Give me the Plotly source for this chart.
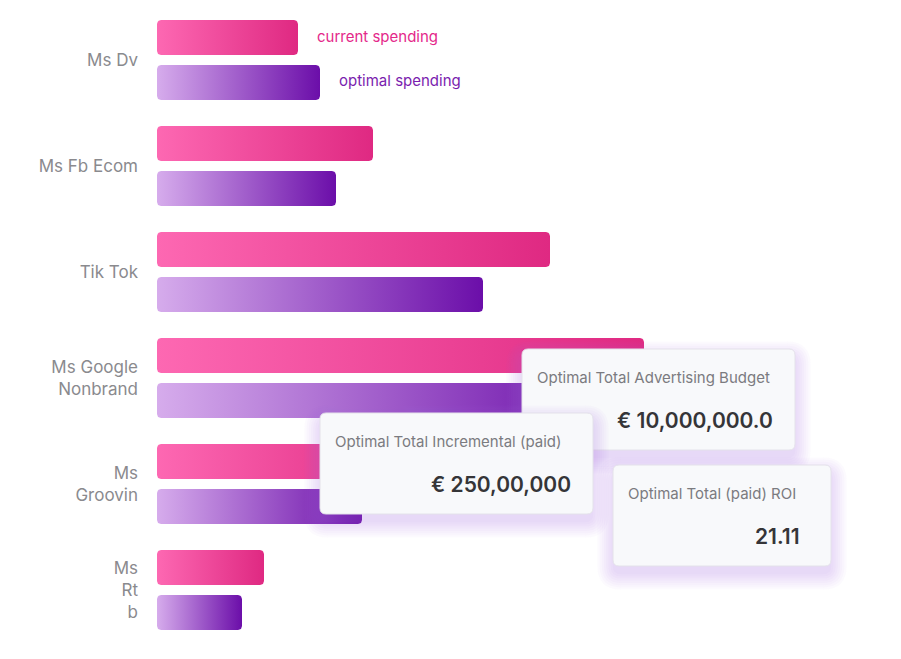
import numpy as np
import plotly.graph_objects as go

# --- data ---
channels = ["Ms Dv", "Ms Fb Ecom", "Tik Tok", "Ms Google<br>Nonbrand", "Ms<br>Groovin", "Ms<br>Rt<br>b"]
current_spending = [141, 216, 393, 487, 265, 107]
optimal_spending = [163, 179, 326, 450, 205, 85]

kpi_titles = ["Optimal Total Advertising Budget", "Optimal Total Incremental (paid)", "Optimal Total (paid) ROI"]
kpi_values = ["€ 10,000,000.0", "€ 250,00,000", "21.11"]

# --- style ---
W, H = 901, 659
PAGE_PAD = 8  # browser body margin
ML, MR = 157 - PAGE_PAD, 44
FONT = "Inter"
PINK_SCALE = [[0, "#FD68B2"], [1, "#DF2982"]]
PURPLE_SCALE = [[0, "#D6ACEC"], [1, "#6B0EA9"]]
OFFSET = 0.212
HALF_H = 0.165
PX_PER_Y = 106.0
Y_TOP = -0.566 + PAGE_PAD / PX_PER_Y
Y_RANGE = [Y_TOP + H / PX_PER_Y, Y_TOP]


def bar_outline(value, yc, r=4):
    # rounded rectangle from 0 to value, centred on yc
    ry = r / PX_PER_Y
    t = np.linspace(0, np.pi / 2, 6)
    y0, y1 = yc - HALF_H, yc + HALF_H
    xs, ys = [], []
    for cx, cy, a0 in [(r, y0 + ry, np.pi), (value - r, y0 + ry, 1.5 * np.pi),
                       (value - r, y1 - ry, 0), (r, y1 - ry, 0.5 * np.pi)]:
        xs += list(cx + r * np.cos(a0 + t))
        ys += list(cy + ry * np.sin(a0 + t))
    xs.append(xs[0])
    ys.append(ys[0])
    return xs, ys


fig = go.Figure()

for i, ch in enumerate(channels):
    for val, off, scale, name in [(current_spending[i], -OFFSET, PINK_SCALE, "current spending"),
                                  (optimal_spending[i], OFFSET, PURPLE_SCALE, "optimal spending")]:
        xs, ys = bar_outline(val, i + off)
        fig.add_trace(go.Scatter(
            x=xs, y=ys, mode="lines", fill="toself",
            line=dict(width=0),
            fillgradient=dict(type="horizontal", colorscale=scale),
            name=name, showlegend=False,
            hoverinfo="text", text=f"{ch.replace('<br>', ' ')}: {val}",
        ))

# legend labels next to first pair of bars
fig.add_annotation(x=current_spending[0], y=0 - OFFSET, xref="x", yref="y",
                   text="current spending", showarrow=False, xanchor="left", xshift=17,
                   yshift=1, font=dict(family=FONT, size=15, color="#E4288A"))
fig.add_annotation(x=optimal_spending[0], y=0 + OFFSET, xref="x", yref="y",
                   text="optimal spending", showarrow=False, xanchor="left", xshift=17,
                   yshift=2, font=dict(family=FONT, size=15, color="#7A1DAE"))


# --- KPI cards (reference pixel positions converted to paper coords) ---
def px(x):
    return (x - PAGE_PAD - ML) / (W - ML - MR)


def py(y):
    return 1 - (y - PAGE_PAD) / H


def rounded_path(x0, y0, x1, y1, r):
    return (f"M {px(x0 + r)},{py(y0)} L {px(x1 - r)},{py(y0)} Q {px(x1)},{py(y0)} {px(x1)},{py(y0 + r)} "
            f"L {px(x1)},{py(y1 - r)} Q {px(x1)},{py(y1)} {px(x1 - r)},{py(y1)} "
            f"L {px(x0 + r)},{py(y1)} Q {px(x0)},{py(y1)} {px(x0)},{py(y1 - r)} "
            f"L {px(x0)},{py(y0 + r)} Q {px(x0)},{py(y0)} {px(x0 + r)},{py(y0)} Z")


cards = [(522, 349, 795, 450), (613, 465, 831, 566), (320, 413, 593, 514)]
card_text = [0, 2, 1]
shapes = []
for k, (x0, y0, x1, y1) in enumerate(cards):
    # soft purple glow, mostly below the card
    for s in range(8, 0, -1):
        g = s * 2.2
        shapes.append(dict(type="path", xref="paper", yref="paper", layer="above",
                           path=rounded_path(x0 - g + 2, y0 - g + 10, x1 + g - 2, y1 + g + 6, 6 + g),
                           fillcolor="rgba(175,115,215,0.035)", line=dict(width=0)))
    shapes.append(dict(type="path", xref="paper", yref="paper", layer="above",
                       path=rounded_path(x0, y0, x1, y1, 6),
                       fillcolor="#F8F9FB", line=dict(color="#E4E2EA", width=1)))
fig.update_layout(shapes=shapes)

for k, (x0, y0, x1, y1) in enumerate(cards):
    j = card_text[k]
    fig.add_annotation(xref="paper", yref="paper", x=px(x0 + 13), y=py(y0 + 28),
                       text=kpi_titles[j], showarrow=False, xanchor="left", yanchor="middle",
                       font=dict(family=FONT, size=15, color="#7B7B80"))
    fig.add_annotation(xref="paper", yref="paper", x=px(x1 - 20 if j != 2 else x1 - 29), y=py(y0 + 71),
                       text=kpi_values[j], showarrow=False, xanchor="right", yanchor="middle",
                       font=dict(family=FONT, size=21, color="#353538", weight=600))

fig.update_layout(
    width=W, height=H,
    margin=dict(l=ML, r=MR, t=0, b=0),
    paper_bgcolor="white", plot_bgcolor="white",
    xaxis=dict(range=[0, W - ML - MR], visible=False, fixedrange=True),
    yaxis=dict(range=Y_RANGE, tickmode="array", tickvals=list(range(len(channels))),
               ticktext=channels, showgrid=False, zeroline=False, showline=False,
               ticks="", ticklabelstandoff=18,
               tickfont=dict(family=FONT, size=17, color="#8A8A8E"), fixedrange=True),
    hovermode="closest",
)

fig.write_html("out.html")
